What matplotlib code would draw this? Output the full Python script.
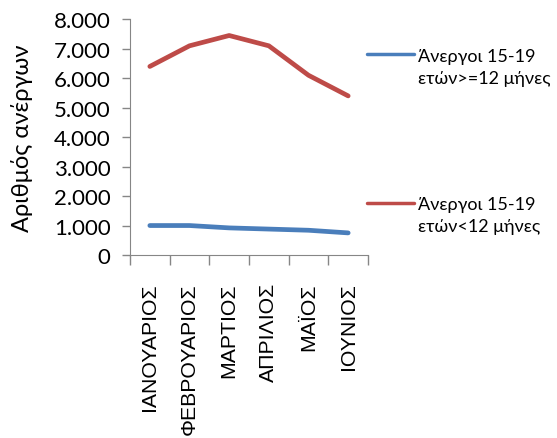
import matplotlib
matplotlib.use('Agg')
import matplotlib.pyplot as plt
from matplotlib.ticker import FuncFormatter, FixedLocator


# <============DATA============>#

months = ['ΙΑΝΟΥΑΡΙΟΣ', 'ΦΕΒΡΟΥΑΡΙΟΣ', 'ΜΑΡΤΙΟΣ', 'ΑΠΡΙΛΙΟΣ', 'ΜΑΪΟΣ', 'ΙΟΥΝΙΟΣ']
long_term = [1000, 1000, 920, 880, 840, 750]
short_term = [6400, 7100, 7450, 7100, 6100, 5400]
labels = ['Άνεργοι 15-19\nετών>=12 μήνες', 'Άνεργοι 15-19\nετών<12 μήνες']
yticks = [0, 1000, 2000, 3000, 4000, 5000, 6000, 7000, 8000]


# <============PLOT============>#

W, H = 557, 439
fig = plt.figure(figsize=(W / 100, H / 100), dpi=100)
ax = fig.add_axes([130 / W, 1 - 256 / H, 238 / W, 235.7 / H])

x = range(len(months))
l1, = ax.plot(x, long_term, color='#4A7EBB', lw=3.4, solid_capstyle='round')
l2, = ax.plot(x, short_term, color='#BE4B48', lw=3.4, solid_capstyle='round')

ax.set_xlim(-0.5, len(months) - 0.5)
ax.set_ylim(0, 8000)
ax.set_yticks(yticks)
ax.yaxis.set_major_formatter(
    FuncFormatter(lambda v, p: f'{int(v):,}'.replace(',', '.')))

ax.set_xticks(list(x))
ax.set_xticklabels(months, rotation=90, family='Liberation Sans', fontsize=15.3)
ax.xaxis.set_minor_locator(FixedLocator([i - 0.5 for i in range(len(months) + 1)]))
ax.tick_params(axis='x', which='major', length=0, pad=19.5)
ax.tick_params(axis='x', which='minor', length=7, color='#868686', width=1)
ax.tick_params(axis='y', length=6, color='#868686', width=1, pad=8,
               labelsize=16)
for lab in ax.get_yticklabels():
    lab.set_family('Lato')

for side in ['top', 'right']:
    ax.spines[side].set_visible(False)
for side in ['left', 'bottom']:
    ax.spines[side].set_color('#868686')

ax.set_ylabel('Αριθμός ανέργων', fontsize=17, family='Lato')
ax.yaxis.set_label_coords(-97 / 238, 0.5)

# one legend per series, handle level with the first line of the label
legs = []
for handle, label, ypix in [(l1, labels[0], 56.7), (l2, labels[1], 205)]:
    first, second = label.split('\n')
    leg = fig.legend([handle], [first], loc='center left',
                     bbox_to_anchor=(367 / W, 1 - ypix / H),
                     frameon=False, handlelength=2.6, handletextpad=0.2,
                     borderpad=0, borderaxespad=0,
                     prop={'family': 'Lato', 'size': 13})
    leg.get_lines()[0].set_linewidth(2.5)
    legs.append((leg, second))

fig.canvas.draw()
for leg, second in legs:
    bb = leg.get_texts()[0].get_window_extent()
    fig.text(bb.x0 / W, (bb.y0 - 6) / H, second, va='top', ha='left',
             family='Lato', fontsize=13)

fig.savefig('out.png', dpi=100)
